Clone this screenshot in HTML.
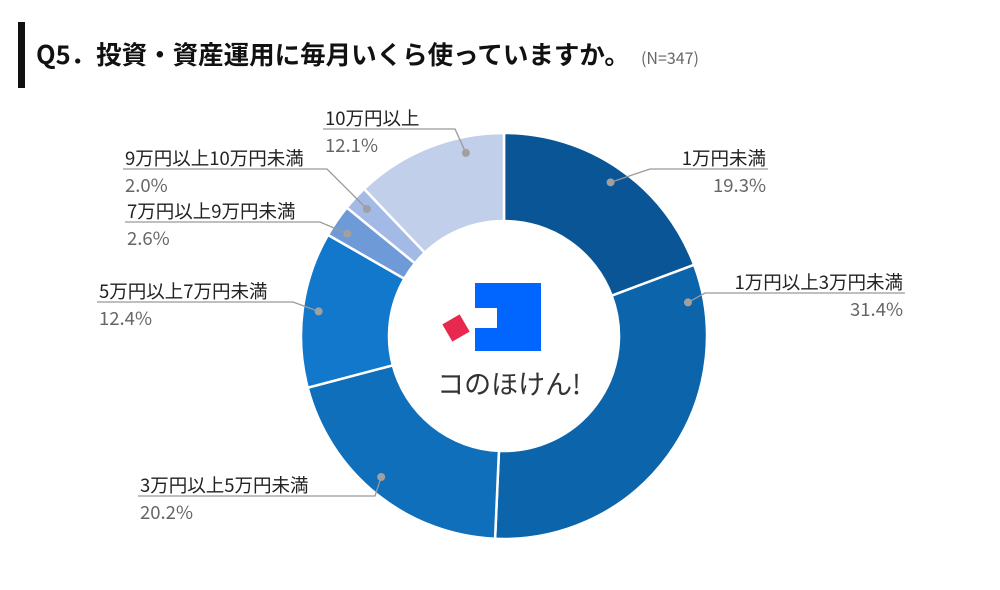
<!DOCTYPE html>
<html><head><meta charset="utf-8">
<style>
body{margin:0;background:#fff;}
svg{display:block;font-family:"Liberation Sans","Noto Sans CJK JP",sans-serif;}
</style></head>
<body>
<svg id="chart" width="1000" height="590" viewBox="0 0 1000 590">
  <rect x="18" y="22" width="7" height="66" fill="#111"/>
  <text x="36" y="64" font-size="25.5" font-weight="bold" fill="#111" font-family="'Noto Sans CJK JP',sans-serif">Q5．投資・資産運用に毎月いくら使っていますか。</text>
  <text x="641" y="64" font-size="16" fill="#666" font-family="'Noto Sans CJK JP',sans-serif">(N=347)</text>
  <g id="slices"></g>
  <g id="labels"></g>
  <g>
    <path d="M475 283 H541 V351 H475 V328 H497 V308 H475 Z" fill="#0066ff"/>
    <rect x="446" y="318" width="20" height="20" fill="#e8294f" transform="rotate(-30 456 328)"/>
    <text x="509" y="394" font-size="27" fill="#333" text-anchor="middle" font-family="'Noto Sans CJK JP',sans-serif">コのほけん!</text>
  </g>
</svg>
<script>
const categories = ["1万円未満","1万円以上3万円未満","3万円以上5万円未満","5万円以上7万円未満","7万円以上9万円未満","9万円以上10万円未満","10万円以上"];
const values = [19.3,31.4,20.2,12.4,2.6,2.0,12.1];
const valueLabels = ["19.3%","31.4%","20.2%","12.4%","2.6%","2.0%","12.1%"];
const colors = ["#0a5595","#0c64ab","#0f6fbb","#1178cc","#6f9ad8","#a3b9e6","#c1cfeb"];
// label layout: [lineY, lineStartX, lineEndX, side]
const layout = [[169,650,768,"r"],[293,705,905,"r"],[496,375,138,"l"],[302,293,97,"l"],[222,320,125,"l"],[169,327,123,"l"],[129,455,323,"l"]];
const dotFrac = [0.5,0.09,0.53,0.5,0.35,0.5,0.73];
const cx=504, cy=336, R=203, r=115, dotR=187;
const NS="http://www.w3.org/2000/svg";
const total = values.reduce((a,b)=>a+b,0);
function pt(rad,ang){return [cx+rad*Math.sin(ang), cy-rad*Math.cos(ang)];}
let acc=0;
const gS=document.getElementById('slices'), gL=document.getElementById('labels');
values.forEach((v,i)=>{
  const a0=acc/total*2*Math.PI, a1=(acc+v)/total*2*Math.PI; acc+=v;
  const large=(a1-a0)>Math.PI?1:0;
  const [x0,y0]=pt(R,a0),[x1,y1]=pt(R,a1),[x2,y2]=pt(r,a1),[x3,y3]=pt(r,a0);
  const p=document.createElementNS(NS,'path');
  p.setAttribute('d',`M${x0} ${y0} A${R} ${R} 0 ${large} 1 ${x1} ${y1} L${x2} ${y2} A${r} ${r} 0 ${large} 0 ${x3} ${y3} Z`);
  p.setAttribute('fill',colors[i]); p.setAttribute('stroke','#fff'); p.setAttribute('stroke-width','2.5');
  
  
  gS.appendChild(p);
  const am=a0+(a1-a0)*dotFrac[i]; const [dx,dy]=pt(dotR,am);
  const L=layout[i];
  const line=document.createElementNS(NS,'polyline');
  line.setAttribute('points',`${dx},${dy} ${L[1]},${L[0]} ${L[2]},${L[0]}`);
  line.setAttribute('fill','none'); line.setAttribute('stroke','#999'); line.setAttribute('stroke-width','1.3');
  
  
  gL.appendChild(line);
  const dot=document.createElementNS(NS,'circle');
  dot.setAttribute('cx',dx); dot.setAttribute('cy',dy); dot.setAttribute('r','4'); dot.setAttribute('fill','#a0a0a0');
  
  
  gL.appendChild(dot);
  const anchor=L[3]==="r"?"end":"start";
  const tx=L[3]==="r"?L[2]-2:L[2]+2;
  const t1=document.createElementNS(NS,'text');
  t1.setAttribute('x',tx); t1.setAttribute('y',L[0]-4); t1.setAttribute('text-anchor',anchor);
  t1.setAttribute('font-size','18.5'); t1.setAttribute('fill','#222');
  t1.setAttribute('font-family',"'Noto Sans CJK JP',sans-serif");
  t1.textContent=categories[i];
  
  
  gL.appendChild(t1);
  const t2=document.createElementNS(NS,'text');
  t2.setAttribute('x',tx); t2.setAttribute('y',L[0]+23); t2.setAttribute('text-anchor',anchor);
  t2.setAttribute('font-size','18.5'); t2.setAttribute('fill','#666');
  t2.setAttribute('font-family',"'Noto Sans CJK JP',sans-serif");
  t2.textContent=valueLabels[i];
  
  
  gL.appendChild(t2);
});
</script>
</body></html>
